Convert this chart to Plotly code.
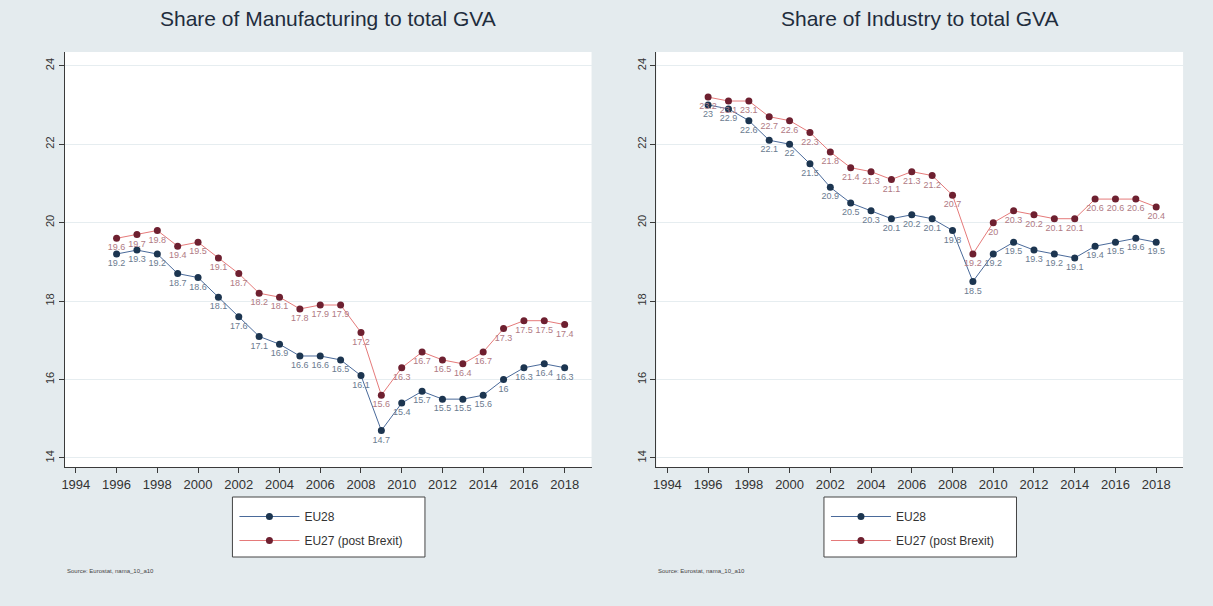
import plotly.graph_objects as go

years = list(range(1996, 2019))

manuf_eu28 = [19.2, 19.3, 19.2, 18.7, 18.6, 18.1, 17.6, 17.1, 16.9, 16.6, 16.6, 16.5,
              16.1, 14.7, 15.4, 15.7, 15.5, 15.5, 15.6, 16.0, 16.3, 16.4, 16.3]
manuf_eu27 = [19.6, 19.7, 19.8, 19.4, 19.5, 19.1, 18.7, 18.2, 18.1, 17.8, 17.9, 17.9,
              17.2, 15.6, 16.3, 16.7, 16.5, 16.4, 16.7, 17.3, 17.5, 17.5, 17.4]
ind_eu28 = [23.0, 22.9, 22.6, 22.1, 22.0, 21.5, 20.9, 20.5, 20.3, 20.1, 20.2, 20.1,
            19.8, 18.5, 19.2, 19.5, 19.3, 19.2, 19.1, 19.4, 19.5, 19.6, 19.5]
ind_eu27 = [23.2, 23.1, 23.1, 22.7, 22.6, 22.3, 21.8, 21.4, 21.3, 21.1, 21.3, 21.2,
            20.7, 19.2, 20.0, 20.3, 20.2, 20.1, 20.1, 20.6, 20.6, 20.6, 20.4]

titles = ["Share of Manufacturing to total GVA", "Share of Industry to total GVA"]
series_names = ["EU28", "EU27 (post Brexit)"]
x_ticks = list(range(1994, 2019, 2))
y_ticks = [14, 16, 18, 20, 22, 24]
source_text = "Source: Eurostat, nama_10_a10"

W, H = 1213, 606
FONT = "Liberation Sans, Arial, sans-serif"
BG = "#e4ebee"

def fmt(v):
    return ("%g" % v)

marker_cols = ["#1c3550", "#6e2030"]
line_cols = ["#4a6a9a", "#e57a7a"]
label_cols = ["#6b7b90", "#b07a84"]

fig = go.Figure()

panels = [
    dict(xa="x", ya="y", data=[manuf_eu28, manuf_eu27], legend="legend", x0=62, x1=590),
    dict(xa="x2", ya="y2", data=[ind_eu28, ind_eu27], legend="legend2", x0=655, x1=1183),
]

for k, p in enumerate(panels):
    for i, vals in enumerate(p["data"]):
        fig.add_trace(go.Scatter(
            x=years, y=vals, mode="lines+markers+text",
            name=series_names[i], legendgroup="g%d_%d" % (k, i),
            text=[fmt(v) for v in vals],
            textposition="bottom center",
            textfont=dict(family=FONT, size=9, color=label_cols[i]),
            line=dict(color=line_cols[i], width=1),
            marker=dict(color=marker_cols[i], size=7),
            xaxis=p["xa"], yaxis=p["ya"], legend=p["legend"],
        ))

top_px, bot_px = 52, 467
ydom = [1 - bot_px / H, 1 - top_px / H]

axis_common = dict(showline=True, linecolor="#3a3a3a", linewidth=1, ticks="outside",
                   ticklen=5, tickcolor="#3a3a3a", mirror=False, zeroline=False)

layout = dict(
    width=W, height=H,
    margin=dict(l=0, r=0, t=0, b=0),
    paper_bgcolor=BG, plot_bgcolor="white",
    showlegend=True,
)

shapes = []
for k, p in enumerate(panels):
    sfx = "" if k == 0 else "2"
    layout["xaxis" + sfx] = dict(
        domain=[p["x0"] / W, p["x1"] / W], range=[1993.46, 2019.32],
        tickvals=x_ticks, showgrid=False, anchor="y" + sfx,
        tickfont=dict(family=FONT, size=13, color="#333333"), **axis_common)
    layout["yaxis" + sfx] = dict(
        domain=ydom, range=[13.77, 24.35], tickvals=y_ticks, tickangle=-90,
        showgrid=True, gridcolor="#e6edf0", gridwidth=1, anchor="x" + sfx,
        tickfont=dict(family=FONT, size=11, color="#333333"), **axis_common)
    layout["legend" + sfx] = dict(
        x=(p["x0"] + 170) / W, y=1 - 502 / H, xanchor="left", yanchor="top",
        bgcolor="rgba(0,0,0,0)", borderwidth=0,
        font=dict(family=FONT, size=12, color="#333333"),
        itemwidth=60, tracegroupgap=5,
    )
    lx0 = p["x0"] + 168
    shapes.append(dict(type="rect", xref="paper", yref="paper",
                       x0=lx0 / W, x1=(lx0 + 193) / W,
                       y0=1 - 557 / H, y1=1 - 497 / H,
                       fillcolor="white", line=dict(color="#444444", width=1),
                       layer="above"))

layout["shapes"] = shapes
fig.update_layout(**layout)

for k, p in enumerate(panels):
    fig.add_annotation(text=titles[k], xref="paper", yref="paper",
                       x=(p["x0"] + p["x1"]) / 2 / W, y=1 - 18 / H,
                       showarrow=False, xanchor="center", yanchor="middle",
                       font=dict(family=FONT, size=21, color="#1f2d3d"))
    fig.add_annotation(text=source_text, xref="paper", yref="paper",
                       x=p["x0"] / W, y=1 - 571 / H, showarrow=False,
                       xanchor="left", yanchor="middle",
                       font=dict(family=FONT, size=6, color="#444444"))

fig.write_html("out.html", config={"displayModeBar": False},
               post_script="document.body.style.margin='0';document.body.style.background='%s';" % BG)
